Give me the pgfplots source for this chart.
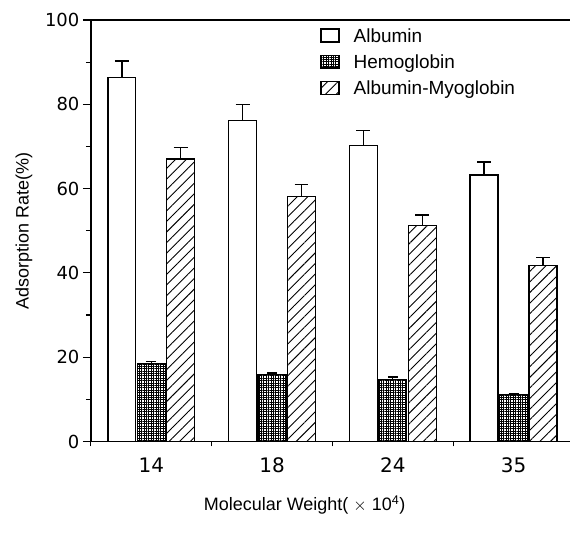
\documentclass[border=0pt]{standalone}
\usepackage{pgfplots}
\pgfplotsset{compat=1.18}
\usepackage{pgfplotstable}
\usepackage{fontspec}
\setmainfont{Liberation Sans}
\newfontfamily\dejavu{DejaVu Sans}
\usetikzlibrary{patterns.meta}
\pgfplotstableread{
x y e
0 86.4 3.9
1 76.1 3.9
2 70.2 3.6
3 63.2 3.1
}\albumin
\pgfplotstableread{
x y e
0 18.5 0.5
1 15.9 0.3
2 14.7 0.6
3 11.1 0.2
}\hemo
\pgfplotstableread{
x y e
0 67.0 2.7
1 58.1 2.8
2 51.3 2.4
3 41.7 2.0
}\albmyo
\begin{document}
\begin{tikzpicture}
\begin{axis}[
  scale only axis,
  width=480bp, height=422bp,
  xmin=-0.5, xmax=3.47,
  ymin=0, ymax=100,
  axis x line=box, axis y line=left,
  axis line style={line width=1.4bp, -},
  tick align=outside,
  xtick pos=bottom, ytick pos=left,
  xtick={0,1,2,3},
  xticklabels={14,18,24,35},
  major x tick style={draw=none},
  minor xtick={-0.5,0.5,1.5,2.5},
  ytick={0,20,40,60,80,100},
  minor ytick={10,30,50,70,90},
  major tick length=8bp,
  minor tick length=5bp,
  tick style={line width=1.2bp, black},
  yticklabel style={font=\dejavu\fontsize{18bp}{21bp}\selectfont},
  xticklabel style={font=\dejavu\fontsize{20bp}{23bp}\selectfont, yshift=-5bp},
  /pgf/number format/assume math mode=true,
  xlabel={Molecular Weight( $\times$ 10\textsuperscript{4})},
  ylabel={Adsorption Rate(\%)},
  label style={font=\fontsize{18bp}{21bp}\selectfont},
  xlabel style={yshift=-16bp, xshift=-26bp},
  ylabel style={yshift=6bp},
  ybar=1.5bp,
  bar width=28bp,
  legend cell align=left,
  legend style={at={(rel axis cs:0.472,0.99)}, anchor=north west, draw=none, fill=none,
    font=\fontsize{19bp}{22bp}\selectfont, row sep=7bp},
  legend image code/.code={\draw[#1, line width=1.4bp] (0bp,-6bp) rectangle (18bp,7bp); \path (30bp,0);},
  clip=false,
]
\addplot[draw=black, line width=1.4bp, fill=white,
  error bars/.cd, y dir=plus, y explicit, error mark options={rotate=90, mark size=7bp, line width=1.4bp},
  error bar style={line width=1.4bp}]
  table[x=x, y=y, y error=e]{\albumin};
\addlegendentry{Albumin}
\addplot[draw=black, line width=1.4bp, pattern={Hatch[distance=2.4bp, line width=0.5bp]},
  error bars/.cd, y dir=plus, y explicit, error mark options={rotate=90, mark size=5bp, line width=1.4bp},
  error bar style={line width=1.4bp}]
  table[x=x, y=y, y error=e]{\hemo};
\addlegendentry{Hemoglobin}
\addplot[draw=black, line width=1.4bp, pattern={Lines[angle=45, distance=7.5bp, line width=0.9bp]},
  error bars/.cd, y dir=plus, y explicit, error mark options={rotate=90, mark size=7bp, line width=1.4bp},
  error bar style={line width=1.4bp}]
  table[x=x, y=y, y error=e]{\albmyo};
\addlegendentry{Albumin-Myoglobin}
\end{axis}
\path (current axis.north) ++(0,20bp);
\path (current axis.south) ++(0,-95bp);
\path (current axis.west) ++(-91bp,0);
\end{tikzpicture}
\end{document}
